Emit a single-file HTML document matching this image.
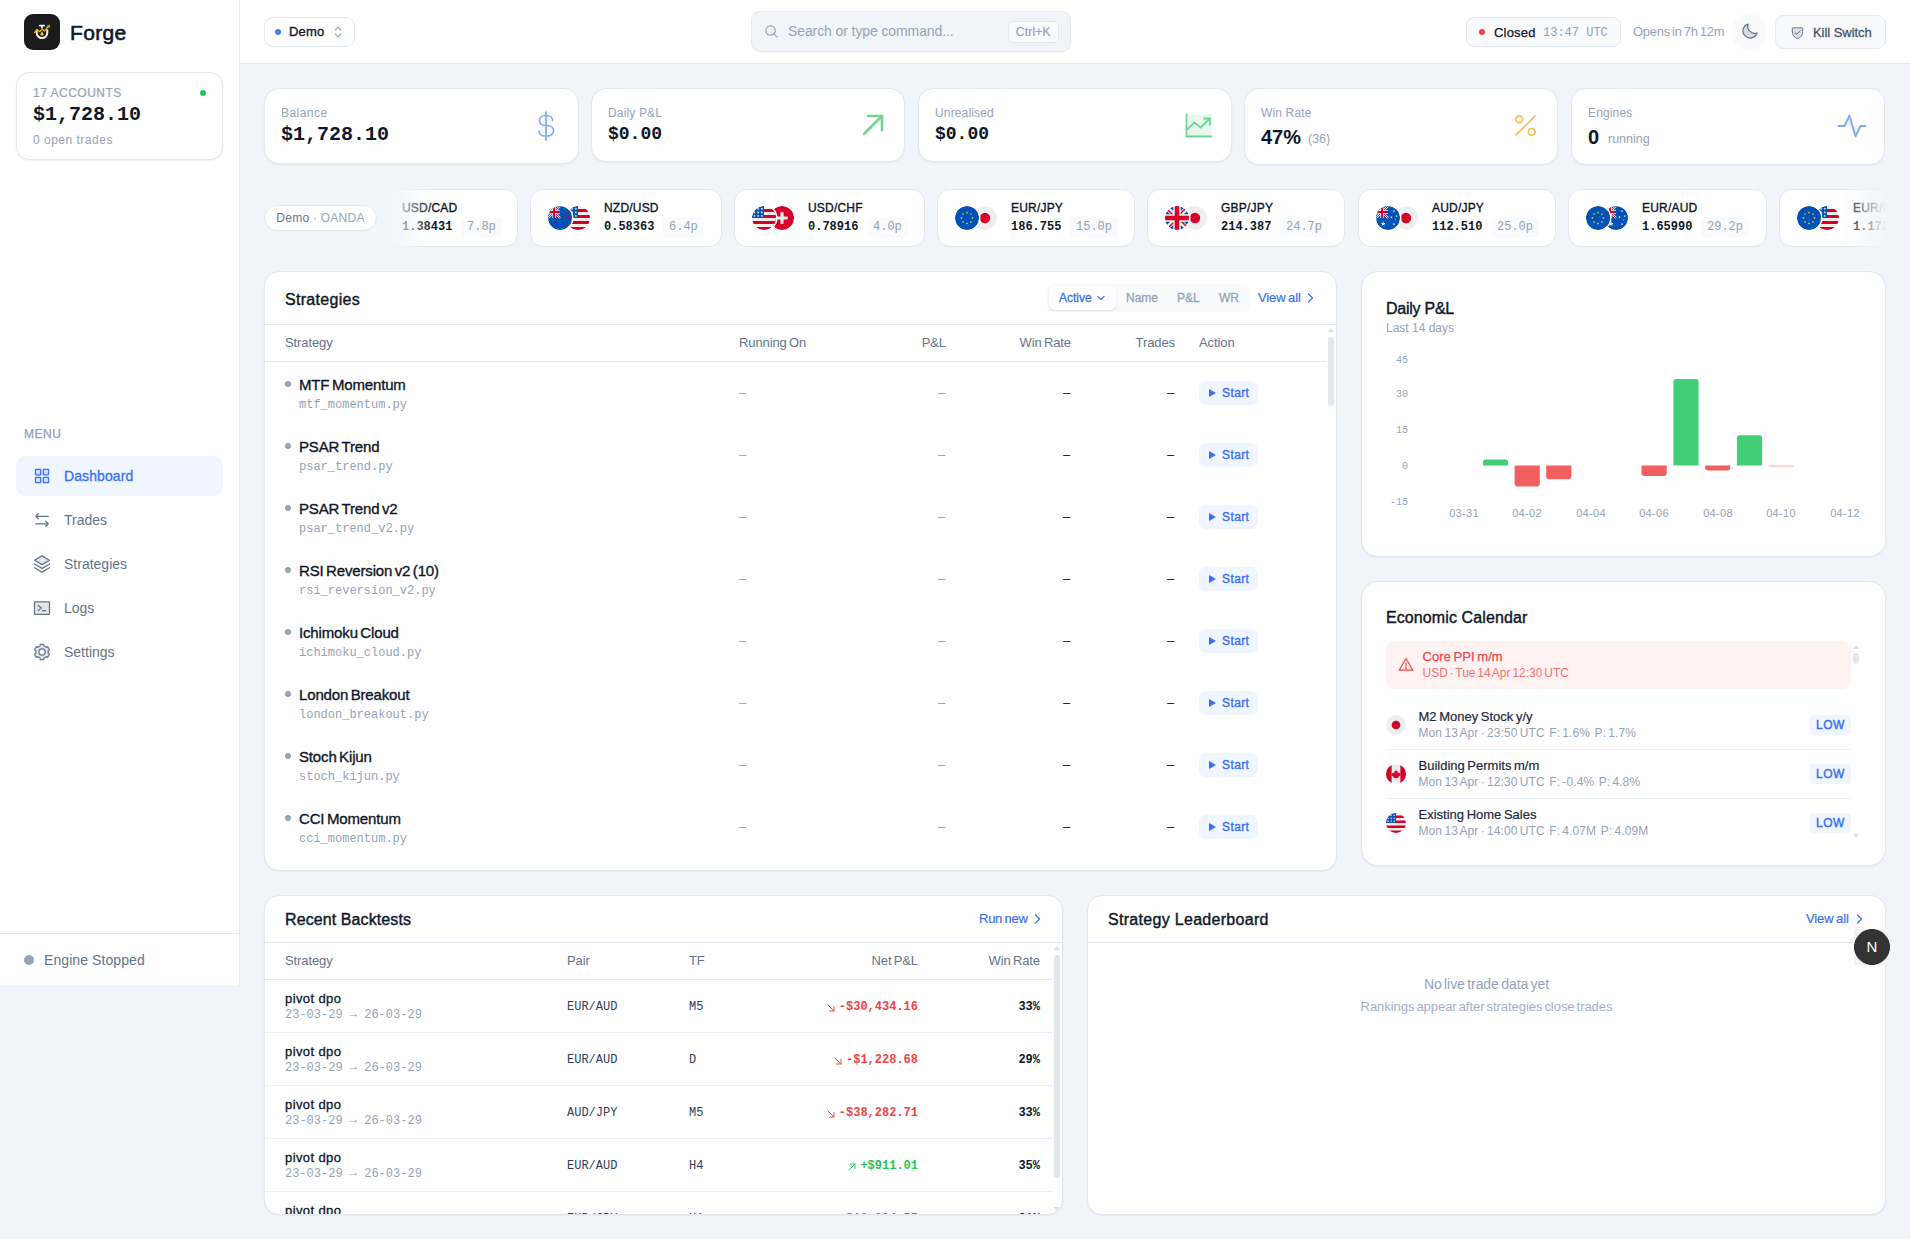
<!DOCTYPE html>
<html lang="en">
<head>
<meta charset="utf-8">
<title>Forge</title>
<style>
*{box-sizing:border-box;margin:0;padding:0}
html,body{width:1910px;height:1239px;overflow:hidden}
body{background:#f1f5f9;font-family:"Liberation Sans",sans-serif;color:#0f172a;position:relative;font-size:14px}
.mono{font-family:"Liberation Mono",monospace}
.abs{position:absolute}
svg{display:block}
/* sidebar */
#side{position:absolute;left:0;top:0;width:240px;height:985px;background:#fff;border-right:1px solid #e2e8f0}
#logo{position:absolute;left:24px;top:14px;width:36px;height:36px;border-radius:9px;background:#1b1b1d}
#brand{position:absolute;left:70px;top:19.500px;font-size:21px;font-weight:400;-webkit-text-stroke:.6px #0f172a;line-height:26px;color:#0f172a;letter-spacing:.35px}
#acct{position:absolute;left:16px;top:72px;width:207px;height:88px;border:1px solid #e2e8f0;border-radius:13px;background:#fff;box-shadow:0 1px 2px rgba(15,23,42,.06)}
#acct .l1{position:absolute;left:16px;top:13px;font-size:12px;line-height:14px;color:#94a3b8;font-weight:400;letter-spacing:.5px;-webkit-text-stroke:.2px #94a3b8}
#acct .l2{position:absolute;left:16px;top:30px;font-size:20px;line-height:24px;font-weight:700;color:#0f172a}
#acct .l3{position:absolute;left:16px;top:60px;font-size:12px;line-height:14px;color:#94a3b8;letter-spacing:.5px}
#acct .dot{position:absolute;left:183px;top:17px;width:6px;height:6px;border-radius:50%;background:#22c55e}
#menu{position:absolute;left:24px;top:427px;font-size:12px;line-height:14px;color:#8ea0bf;letter-spacing:.5px;-webkit-text-stroke:.25px #8ea0bf}
.nav{position:absolute;left:16px;width:207px;height:40px;border-radius:10px;color:#64748b;font-size:14px;line-height:40px;padding-left:48px}
.nav.on{background:#eff6ff;color:#3b6ff5;-webkit-text-stroke:.3px #3b6ff5;letter-spacing:.1px}
.nav svg{position:absolute;left:16px;top:10px;width:20px;height:20px}
#foot{position:absolute;left:0;top:933px;width:239px;height:52px;border-top:1px solid #e2e8f0}
#foot .d{position:absolute;left:24px;top:20.500px;width:10px;height:10px;border-radius:50%;background:#94a3b8}
#foot .t{position:absolute;left:44px;top:16.500px;font-size:14px;line-height:18px;color:#64748b;letter-spacing:.08px}
/* header */
#head{position:absolute;left:240px;top:0;width:1670px;height:64px;background:#fff;border-bottom:1px solid #e2e8f0}
.card{position:absolute;background:#fff;border:1px solid #e2e8f0;border-radius:14px;box-shadow:0 1px 2px rgba(15,23,42,.05)}

/* header items */
#demo{position:absolute;left:24px;top:17px;width:91px;height:30px;border:1px solid #e2e8f0;border-radius:9px;background:#fff}
#demo .d{position:absolute;left:10px;top:11px;width:6px;height:6px;border-radius:50%;background:#3b82f6}
#demo .t{position:absolute;left:24px;top:6px;font-size:13px;line-height:16px;color:#0f172a;-webkit-text-stroke:.35px #0f172a;letter-spacing:.2px}
#demo svg{position:absolute;left:68px;top:7px;width:10px;height:14px}
#search{position:absolute;left:511px;top:11px;width:320px;height:41px;border:1px solid #e2e8f0;border-radius:9px;background:#f1f5f9}
#search .ph{position:absolute;left:36px;top:11px;font-size:14px;line-height:17px;color:#94a3b8;letter-spacing:-.1px}
#search .k{position:absolute;left:255.500px;top:9px;width:51.500px;height:22px;border:1px solid #e2e8f0;border-radius:5px;background:#f8fafc;font-size:12px;line-height:20px;text-align:center;color:#94a3b8;letter-spacing:.2px;-webkit-text-stroke:.2px #94a3b8}
#search svg{position:absolute;left:12px;top:12px;width:15px;height:15px}
#closed{position:absolute;left:1226px;top:17px;width:155px;height:30px;border:1px solid #e2e8f0;border-radius:8px;background:#f8fafc}
#closed .d{position:absolute;left:12px;top:11px;width:6px;height:6px;border-radius:50%;background:#ef4444}
#closed .t{position:absolute;left:27px;top:7px;font-size:13px;line-height:16px;color:#0f172a;-webkit-text-stroke:.25px #0f172a;letter-spacing:.2px}
#closed .m{position:absolute;left:76px;top:8px;font-size:12px;line-height:15px;color:#94a3b8}
#opens{position:absolute;left:1393px;top:24px;font-size:13px;line-height:16px;color:#94a3b8;word-spacing:-1.300px;letter-spacing:-.25px;white-space:nowrap}
#moon{position:absolute;left:1491px;top:14px;width:36px;height:36px;border-radius:50%;background:#f8fafc}
#moon svg{position:absolute;left:9px;top:8px;width:19px;height:19px}
#kill{position:absolute;left:1535px;top:15px;width:111px;height:34px;border:1px solid #e2e8f0;border-radius:9px;background:#f8fafc}
#kill .t{position:absolute;left:37px;top:9px;font-size:13px;line-height:16px;color:#475569;-webkit-text-stroke:.3px #475569;letter-spacing:-.05px;white-space:nowrap}
#kill svg{position:absolute;left:14px;top:9px;width:15px;height:15px}
/* stat cards */
.stat{top:88px;width:314px;height:74px;border-radius:15px}
.stat .lb{position:absolute;left:16px;top:17px;font-size:12px;line-height:15px;color:#94a3b8;letter-spacing:.15px}
.stat .v{position:absolute;left:16px;top:34px;font-size:20px;line-height:24px;font-weight:700;color:#0f172a}
.stat .vs{position:absolute;left:16px;top:36px;font-size:20px;line-height:24px;font-weight:700;color:#0f172a}
.stat .sub{position:absolute;top:43px;font-size:12.5px;line-height:15px;color:#94a3b8}
.stat svg{position:absolute}

/* ticker */
#pill{position:absolute;left:264px;top:205px;width:113px;height:26px;border:1px solid #e2e8f0;border-radius:13px;background:#fff;font-size:12px;line-height:24px;text-align:center;color:#94a3b8;letter-spacing:.25px;white-space:nowrap}
#pill b{font-weight:400;color:#64748b}
#tick{position:absolute;left:388px;top:184px;width:1498px;height:68px;overflow:hidden}
#tick:before{content:"";position:absolute;left:0;top:0;width:46px;height:68px;background:linear-gradient(90deg,#f1f5f9 0%,rgba(241,245,249,0) 100%);z-index:3}
#tick:after{content:"";position:absolute;right:0;top:0;width:46px;height:68px;background:linear-gradient(270deg,#f1f5f9 0%,rgba(241,245,249,0) 100%);z-index:3}
.tk{position:absolute;top:5px;height:58px;background:#fff;border:1px solid #e2e8f0;border-radius:13px}
.tk .f1,.tk .f2{position:absolute;top:15.600px;width:24px;height:24px;border-radius:50%}
.tk .f1{left:17px;z-index:2;box-shadow:0 0 0 1.500px #fff}
.tk .f2{left:35px}
.tk .n{position:absolute;left:73px;top:10.600px;font-size:12px;line-height:15px;color:#0f172a;-webkit-text-stroke:.35px #0f172a;letter-spacing:.2px;white-space:nowrap}
.tk .p{position:absolute;left:73px;top:29.600px;font-size:12px;line-height:15px;font-weight:700;color:#0f172a}
.tk .b{position:absolute;top:26.600px;height:20px;border-radius:4px;background:#f8fafc;font-size:12px;line-height:20px;color:#94a3b8;padding:0 6px}

/* strategies */
.ttl{position:absolute;font-size:16px;line-height:20px;color:#0f172a;-webkit-text-stroke:.4px #0f172a;letter-spacing:.1px;white-space:nowrap}
.hr{position:absolute;height:1px;background:#e2e8f0}
.th{position:absolute;font-size:13px;line-height:16px;color:#64748b;white-space:nowrap;letter-spacing:-.1px;word-spacing:-1.200px}
.r{text-align:right}
#strat .seg{position:absolute;left:782px;top:12px;width:203px;height:28px;border-radius:8px;background:#f8fafc}
#strat .seg .a{position:absolute;left:2px;top:2px;width:67px;height:24px;border-radius:6px;background:#fff;box-shadow:0 1px 2px rgba(15,23,42,.12)}
#strat .seg span{position:absolute;top:7px;font-size:12px;line-height:15px;color:#94a3b8;-webkit-text-stroke:.3px #94a3b8}
#strat .seg .at{color:#3b6ff5;-webkit-text-stroke:.3px #3b6ff5}
.lnk{position:absolute;font-size:13px;line-height:16px;color:#3b6ff5;-webkit-text-stroke:.2px #3b6ff5;white-space:nowrap;letter-spacing:-.1px;word-spacing:-1px}
.srow{position:absolute;left:0;width:1061px;height:62px}
.srow .d{position:absolute;left:20px;top:19px;width:6px;height:6px;border-radius:50%;background:#94a3b8}
.srow .n{position:absolute;left:34px;top:13px;font-size:15px;line-height:19px;color:#0f172a;-webkit-text-stroke:.35px #0f172a;white-space:nowrap;word-spacing:-1.500px;letter-spacing:-.15px}
.srow .f{position:absolute;left:34px;top:36px;font-size:12px;line-height:15px;color:#94a3b8}
.srow .x{position:absolute;top:23px;font-size:13px;line-height:16px;color:#94a3b8}
.srow .k{color:#0f172a}
.srow .btn{position:absolute;left:934px;top:19px;width:59px;height:24px;border-radius:7px;background:#eff6ff;color:#3b6ff5;font-size:12px;line-height:24px;padding-left:23px;-webkit-text-stroke:.35px #3b6ff5;letter-spacing:.4px}
.srow .btn i{position:absolute;left:10px;top:8px;width:0;height:0;border-left:7px solid #3b6ff5;border-top:4px solid transparent;border-bottom:4px solid transparent}
.sb{position:absolute;background:#e2e8f0;border-radius:3px}
.arr{position:absolute;width:0;height:0;border-left:3.500px solid transparent;border-right:3.500px solid transparent}
.arr.u{border-bottom:4px solid #d8dfe8}
.arr.dn{border-top:4px solid #d8dfe8}

/* chart */
#pl .sub{position:absolute;left:24px;top:49px;font-size:12px;line-height:15px;color:#94a3b8;letter-spacing:0}
#pl .yl{position:absolute;left:10px;width:36px;text-align:right;font-size:10px;line-height:12px;color:#94a3b8}
#pl .xl{position:absolute;top:235px;width:50px;text-align:center;font-size:11px;line-height:13px;color:#94a3b8;letter-spacing:.3px}
#pl .bar{position:absolute;width:25px}
#pl .g{background:#43ce76;border-radius:3px 3px 0 0}
#pl .rd{background:#f16060;border-radius:0 0 3px 3px}
/* calendar */
#cal .al{position:absolute;left:24px;top:59px;width:465px;height:48px;border-radius:9px;background:#fef2f2}
#cal .al .t1{position:absolute;left:36.500px;top:8px;font-size:13px;line-height:16px;color:#ef4444;-webkit-text-stroke:.25px #ef4444;letter-spacing:.05px;word-spacing:-1px;white-space:nowrap}
#cal .al .t2{position:absolute;left:36.500px;top:25px;font-size:12px;line-height:15px;color:#f87171;letter-spacing:0;word-spacing:-1.500px;white-space:nowrap}
#cal .ev{position:absolute;left:24px;width:465px;height:49px}
#cal .ev svg{position:absolute;left:0;top:15px;width:20px;height:20px}
#cal .ev .t1{position:absolute;left:32.500px;top:9px;font-size:13px;line-height:16px;color:#1e293b;-webkit-text-stroke:.2px #1e293b;letter-spacing:0;word-spacing:-1px;white-space:nowrap}
#cal .ev .t2{position:absolute;left:32.500px;top:25.500px;font-size:12px;line-height:15px;color:#94a3b8;letter-spacing:.1px;word-spacing:-1.200px;white-space:pre}
#cal .ev .lo{position:absolute;left:424px;top:15px;width:41px;height:20px;border-radius:4px;background:#eff6ff;color:#3b6ff5;font-size:12px;line-height:20px;text-align:center;-webkit-text-stroke:.45px #3b6ff5;letter-spacing:.5px}

/* backtests */
.brow{position:absolute;left:0;width:787px;height:53px;border-bottom:1px solid #eef2f6}
.brow .n{position:absolute;left:20px;top:10.500px;font-size:13px;line-height:16px;color:#0f172a;-webkit-text-stroke:.3px #0f172a;letter-spacing:.4px}
.brow .dt{position:absolute;left:20px;top:28px;font-size:12px;line-height:15px;color:#94a3b8}
.brow .c{position:absolute;top:20px;font-size:12px;line-height:15px;color:#334155}
.brow .pl{position:absolute;right:134px;top:20px;font-size:12px;line-height:15px;font-weight:700;white-space:nowrap}
.brow .wr{position:absolute;right:12px;top:20px;font-size:12px;line-height:15px;font-weight:700;color:#0f172a}
.ar{position:relative;top:-1.500px}.neg{color:#ef4444}.pos{color:#22c55e}
.brow svg{position:absolute;top:24px;width:8px;height:8px}
#lead .e1{position:absolute;left:0;width:797px;top:79px;text-align:center;font-size:14px;line-height:17px;color:#94a3b8;letter-spacing:-.05px;word-spacing:-1.500px}
#lead .e2{position:absolute;left:0;width:797px;top:102px;text-align:center;font-size:13px;line-height:16px;color:#a3b1c6;letter-spacing:-.05px;word-spacing:-1.500px}
#nb{position:absolute;left:1854px;top:929px;width:36px;height:36px;background:#f1f3f6}#nb:before{content:"";box-sizing:border-box;position:absolute;left:0;top:0;width:36px;height:36px;border-radius:50%;background:#333334;border:1px solid #2a2a2b}
#nb span{position:absolute;left:0;top:0;width:36px;height:36px;line-height:36px;text-align:center;color:#fff;font-size:15px}
</style>
</head>
<body>
<svg width="0" height="0" style="position:absolute"><defs><clipPath id="cc"><circle cx="256" cy="256" r="256"/></clipPath><symbol id="f-us" viewBox="0 0 512 512"><g clip-path="url(#cc)"><path fill="#eee" d="M0 0h512v512H0z"/><path fill="#d80027" d="M224 64h288v64H224zM224 192h288v64H224zM0 320h512v64H0zM0 448h512v64H0z"/><path fill="#0052b4" d="M0 0h256v256H0z"/><polygon fill="#eee" points="50.0,30.0 57.1,50.3 78.5,50.7 61.4,63.7 67.6,84.3 50.0,72.0 32.4,84.3 38.6,63.7 21.5,50.7 42.9,50.3"/><polygon fill="#eee" points="130.0,30.0 137.1,50.3 158.5,50.7 141.4,63.7 147.6,84.3 130.0,72.0 112.4,84.3 118.6,63.7 101.5,50.7 122.9,50.3"/><polygon fill="#eee" points="210.0,30.0 217.1,50.3 238.5,50.7 221.4,63.7 227.6,84.3 210.0,72.0 192.4,84.3 198.6,63.7 181.5,50.7 202.9,50.3"/><polygon fill="#eee" points="50.0,105.0 57.1,125.3 78.5,125.7 61.4,138.7 67.6,159.3 50.0,147.0 32.4,159.3 38.6,138.7 21.5,125.7 42.9,125.3"/><polygon fill="#eee" points="130.0,105.0 137.1,125.3 158.5,125.7 141.4,138.7 147.6,159.3 130.0,147.0 112.4,159.3 118.6,138.7 101.5,125.7 122.9,125.3"/><polygon fill="#eee" points="210.0,105.0 217.1,125.3 238.5,125.7 221.4,138.7 227.6,159.3 210.0,147.0 192.4,159.3 198.6,138.7 181.5,125.7 202.9,125.3"/><polygon fill="#eee" points="50.0,180.0 57.1,200.3 78.5,200.7 61.4,213.7 67.6,234.3 50.0,222.0 32.4,234.3 38.6,213.7 21.5,200.7 42.9,200.3"/><polygon fill="#eee" points="130.0,180.0 137.1,200.3 158.5,200.7 141.4,213.7 147.6,234.3 130.0,222.0 112.4,234.3 118.6,213.7 101.5,200.7 122.9,200.3"/><polygon fill="#eee" points="210.0,180.0 217.1,200.3 238.5,200.7 221.4,213.7 227.6,234.3 210.0,222.0 192.4,234.3 198.6,213.7 181.5,200.7 202.9,200.3"/></g></symbol><symbol id="f-jp" viewBox="0 0 512 512"><g clip-path="url(#cc)"><path fill="#eee" d="M0 0h512v512H0z"/><circle cx="256" cy="256" r="111" fill="#d80027"/></g></symbol><symbol id="f-ch" viewBox="0 0 512 512"><g clip-path="url(#cc)"><path fill="#d80027" d="M0 0h512v512H0z"/><path fill="#eee" d="M133.600 222.600h89v-89h66.800v89h89v66.800h-89v89h-66.800v-89h-89z"/></g></symbol><symbol id="f-eu" viewBox="0 0 512 512"><g clip-path="url(#cc)"><path fill="#0052b4" d="M0 0h512v512H0z"/><polygon fill="#ffda44" points="374.0,229.0 380.3,247.3 399.7,247.7 384.3,259.3 389.9,277.8 374.0,266.8 358.1,277.8 363.7,259.3 348.3,247.7 367.7,247.3"/><polygon fill="#ffda44" points="339.4,312.4 345.8,330.7 365.1,331.1 349.7,342.8 355.3,361.3 339.4,350.2 323.6,361.3 329.2,342.8 313.8,331.1 333.1,330.7"/><polygon fill="#ffda44" points="256.0,347.0 262.3,365.3 281.7,365.7 266.3,377.3 271.9,395.8 256.0,384.8 240.1,395.8 245.7,377.3 230.3,365.7 249.7,365.3"/><polygon fill="#ffda44" points="172.6,312.4 178.9,330.7 198.2,331.1 182.8,342.8 188.4,361.3 172.6,350.2 156.7,361.3 162.3,342.8 146.9,331.1 166.2,330.7"/><polygon fill="#ffda44" points="138.0,229.0 144.3,247.3 163.7,247.7 148.3,259.3 153.9,277.8 138.0,266.8 122.1,277.8 127.7,259.3 112.3,247.7 131.7,247.3"/><polygon fill="#ffda44" points="172.6,145.6 178.9,163.8 198.2,164.2 182.8,175.9 188.4,194.4 172.6,183.4 156.7,194.4 162.3,175.9 146.9,164.2 166.2,163.8"/><polygon fill="#ffda44" points="256.0,111.0 262.3,129.3 281.7,129.7 266.3,141.3 271.9,159.8 256.0,148.8 240.1,159.8 245.7,141.3 230.3,129.7 249.7,129.3"/><polygon fill="#ffda44" points="339.4,145.6 345.8,163.8 365.1,164.2 349.7,175.9 355.3,194.4 339.4,183.4 323.6,194.4 329.2,175.9 313.8,164.2 333.1,163.8"/></g></symbol><symbol id="f-gb" viewBox="0 0 512 512"><g clip-path="url(#cc)"><path fill="#eee" d="M0 0h512v512H0z"/><path fill="#0052b4" d="M336 0v108L444 0zm176 68L404 176h108zM0 176h108L0 68zM68 0l108 108V0zm108 512V404L68 512zM0 444l108-108H0zm512-108H404l108 108zm-68 176L336 404v108z"/><path fill="#d80027" d="M0 0v45l131 131h45L0 0zm208 0v208H0v96h208v208h96V304h208v-96H304V0h-96zm259 0L336 131v45L512 0h-45zM176 336L0 512h45l131-131v-45zm160 0l176 176v-45L381 336h-45z"/></g></symbol><symbol id="f-au" viewBox="0 0 512 512"><g clip-path="url(#cc)"><path fill="#0052b4" d="M0 0h512v512H0z"/><g><path fill="#0052b4" d="M0 0h256v256H0z"/><path stroke="#eee" stroke-width="44" d="M0 0l256 256M256 0L0 256"/><path stroke="#d80027" stroke-width="18" d="M0 0l256 256M256 0L0 256"/><path stroke="#eee" stroke-width="72" d="M128 0v256M0 128h256"/><path stroke="#d80027" stroke-width="40" d="M128 0v256M0 128h256"/></g><polygon fill="#eee" points="154.0,324.0 167.2,361.9 207.3,362.7 175.3,386.9 186.9,425.3 154.0,402.4 121.1,425.3 132.7,386.9 100.7,362.7 140.8,361.9"/><polygon fill="#eee" points="384.0,82.0 390.6,100.9 410.6,101.3 394.7,113.5 400.5,132.7 384.0,121.2 367.5,132.7 373.3,113.5 357.4,101.3 377.4,100.9"/><polygon fill="#eee" points="440.0,187.0 446.6,205.9 466.6,206.3 450.7,218.5 456.5,237.7 440.0,226.2 423.5,237.7 429.3,218.5 413.4,206.3 433.4,205.9"/><polygon fill="#eee" points="330.0,212.0 336.6,230.9 356.6,231.3 340.7,243.5 346.5,262.7 330.0,251.2 313.5,262.7 319.3,243.5 303.4,231.3 323.4,230.9"/><polygon fill="#eee" points="384.0,362.0 390.6,380.9 410.6,381.3 394.7,393.5 400.5,412.7 384.0,401.2 367.5,412.7 373.3,393.5 357.4,381.3 377.4,380.9"/><polygon fill="#eee" points="420.0,284.0 423.8,294.8 435.2,295.1 426.1,302.0 429.4,312.9 420.0,306.4 410.6,312.9 413.9,302.0 404.8,295.1 416.2,294.8"/></g></symbol><symbol id="f-nz" viewBox="0 0 512 512"><g clip-path="url(#cc)"><path fill="#0052b4" d="M0 0h512v512H0z"/><g><path fill="#0052b4" d="M0 0h256v256H0z"/><path stroke="#eee" stroke-width="44" d="M0 0l256 256M256 0L0 256"/><path stroke="#d80027" stroke-width="18" d="M0 0l256 256M256 0L0 256"/><path stroke="#eee" stroke-width="72" d="M128 0v256M0 128h256"/><path stroke="#d80027" stroke-width="40" d="M128 0v256M0 128h256"/></g><polygon fill="#d80027" points="384.0,86.0 392.0,109.0 416.3,109.5 396.9,124.2 404.0,147.5 384.0,133.6 364.0,147.5 371.1,124.2 351.7,109.5 376.0,109.0"/><polygon fill="#d80027" points="440.0,195.0 447.1,215.3 468.5,215.7 451.4,228.7 457.6,249.3 440.0,237.0 422.4,249.3 428.6,228.7 411.5,215.7 432.9,215.3"/><polygon fill="#d80027" points="330.0,210.0 337.1,230.3 358.5,230.7 341.4,243.7 347.6,264.3 330.0,252.0 312.4,264.3 318.6,243.7 301.5,230.7 322.9,230.3"/><polygon fill="#d80027" points="384.0,344.0 392.5,368.4 418.2,368.9 397.7,384.4 405.2,409.1 384.0,394.4 362.8,409.1 370.3,384.4 349.8,368.9 375.5,368.4"/></g></symbol><symbol id="f-ca" viewBox="0 0 512 512"><g clip-path="url(#cc)"><path fill="#eee" d="M0 0h512v512H0z"/><path fill="#d80027" d="M0 0h144v512H0zM368 0h144v512H368z"/><path fill="#d80027" d="M256 150l22 44 28-10-12 62 34-30 8 22 40-8-16 44 16 10-62 50 8 26-60-10v46h-12v-46l-60 10 8-26-62-50 16-10-16-44 40 8 8-22 34 30-12-62 28 10z"/></g></symbol></defs></svg>
<div id="side">
  <div id="logo"><svg width="36" height="36" viewBox="0 0 36 36" fill="none" stroke-linecap="round" stroke-linejoin="round"><path d="M12.700 16.300v2.400a5.300 5.300 0 0 0 10.600 0v-2.400" stroke="#f1f1f1" stroke-width="2.100"/><path d="M15.700 11.600h4.600M18 11.800v2" stroke="#f1f1f1" stroke-width="1.700"/><circle cx="18" cy="20.200" r="1.600" fill="#f5b30f"/><path d="M18 17.600l1.300 2h-2.600z" fill="#f5b30f"/><path d="M10.400 18.600l2.700-3 2.400 2.100 2.600-2.500 2.400 1.800 3.700-4.500" stroke="#f5b30f" stroke-width="1.250"/><path d="M23.300 11.700l2.500-.7-.4 2.600z" fill="#f5b30f" stroke="#f5b30f" stroke-width=".5"/></svg></div>
  <div id="brand">Forge</div>
  <div id="acct">
    <div class="l1">17 ACCOUNTS</div>
    <div class="l2 mono">$1,728.10</div>
    <div class="l3">0 open trades</div>
    <div class="dot"></div>
  </div>
  <div id="menu">MENU</div>
  <div class="nav on" style="top:456px"><svg viewBox="0 0 256 256" fill="none" stroke="currentColor" stroke-width="16" stroke-linecap="round" stroke-linejoin="round"><rect x="44" y="44" width="68" height="68" rx="8" fill="currentColor" fill-opacity=".18"/><rect x="144" y="44" width="68" height="68" rx="8" fill="currentColor" fill-opacity=".18"/><rect x="44" y="144" width="68" height="68" rx="8" fill="currentColor" fill-opacity=".18"/><rect x="144" y="144" width="68" height="68" rx="8" fill="currentColor" fill-opacity=".18"/></svg>Dashboard</div>
  <div class="nav" style="top:500px"><svg viewBox="0 0 256 256" fill="none" stroke="currentColor" stroke-width="16" stroke-linecap="round" stroke-linejoin="round"><path d="M176 144l32 32-32 32M48 176h160M80 112L48 80l32-32M208 80H48"/></svg>Trades</div>
  <div class="nav" style="top:544px"><svg viewBox="0 0 256 256" fill="none" stroke="currentColor" stroke-width="16" stroke-linecap="round" stroke-linejoin="round"><path d="M32 176l96 56 96-56M32 128l96 56 96-56"/><path d="M32 80l96 56 96-56-96-56z" fill="currentColor" fill-opacity=".18"/></svg>Strategies</div>
  <div class="nav" style="top:588px"><svg viewBox="0 0 256 256" fill="none" stroke="currentColor" stroke-width="16" stroke-linecap="round" stroke-linejoin="round"><rect x="32" y="48" width="192" height="160" rx="8" fill="currentColor" fill-opacity=".18"/><path d="M80 96l40 32-40 32M136 160h40"/></svg>Logs</div>
  <div class="nav" style="top:632px"><svg viewBox="0 0 256 256" fill="none" stroke="currentColor" stroke-width="16" stroke-linecap="round" stroke-linejoin="round"><path d="M105.2 30.6 L150.8 30.6 L152.7 51.9 L181.5 68.5 L200.9 59.5 L223.7 99.1 L206.3 111.4 L206.3 144.6 L223.7 156.9 L200.9 196.5 L181.5 187.5 L152.7 204.1 L150.8 225.4 L105.2 225.4 L103.3 204.1 L74.5 187.5 L55.1 196.5 L32.3 156.9 L49.7 144.6 L49.7 111.4 L32.3 99.1 L55.1 59.5 L74.5 68.5 L103.3 51.9Z" fill="currentColor" fill-opacity=".18" stroke-width="15"/><circle cx="128" cy="128" r="40" fill="#fff"/></svg>Settings</div>
  <div id="foot"><div class="d"></div><div class="t">Engine Stopped</div></div>
</div>
<div id="head">
  <div id="demo"><div class="d"></div><div class="t">Demo</div>
    <svg viewBox="0 0 10 14" fill="none" stroke="#94a3b8" stroke-width="1.2" stroke-linecap="round" stroke-linejoin="round"><path d="M2.2 5 5 2.2 7.8 5M2.2 9 5 11.8 7.8 9"/></svg></div>
  <div id="search">
    <svg viewBox="0 0 16 16" fill="none" stroke="#94a3b8" stroke-width="1.3" stroke-linecap="round"><circle cx="7" cy="7" r="5"/><path d="M10.8 10.8 14 14"/></svg>
    <div class="ph">Search or type command...</div><div class="k">Ctrl+K</div></div>
  <div id="closed"><div class="d"></div><div class="t">Closed</div><div class="m mono">13:47 UTC</div></div>
  <div id="opens">Opens in 7h 12m</div>
  <div id="moon"><svg viewBox="0 0 256 256" fill="rgba(100,116,139,.22)" stroke="#64748b" stroke-width="16" stroke-linecap="round" stroke-linejoin="round"><path d="M108.1 28.2A96.1 96.1 0 0 0 227.8 147.9 96 96 0 1 1 108.1 28.2Z"/></svg></div>
  <div id="kill"><svg viewBox="0 0 256 256" fill="rgba(100,116,139,.2)" stroke="#64748b" stroke-width="16" stroke-linecap="round" stroke-linejoin="round"><path d="M40 114.8V56a8 8 0 0 1 8-8h160a8 8 0 0 1 8 8v58.8c0 84-71.300 111.800-85.500 116.500a7.200 7.200 0 0 1-5 0C111.300 226.600 40 198.800 40 114.800Z"/><path d="M172 104l-58.700 56L84 132"/></svg><div class="t">Kill Switch</div></div>
</div>
<div class="card stat" style="left:264px;height:76px;width:315px"><div class="lb" style="letter-spacing:.45px">Balance</div><div class="v mono">$1,728.10</div>
  <svg style="left:268.500px;top:21px;width:24px;height:32px" viewBox="0 0 24 32" fill="none" stroke="#7fa9f3" stroke-width="1.7" stroke-linecap="round"><path d="M12 2v28M18.500 10.500c0-3-2.500-5-6-5h-1.500c-3 0-5.500 2-5.500 5s2.500 5 5.500 5h2.500c3.300 0 6 2 6 5.300s-2.700 5.200-6 5.200h-2.500c-3.500 0-6-2-6-5"/></svg></div>
<div class="card stat" style="left:591px"><div class="lb">Daily P&amp;L</div><div class="v mono" style="font-size:18px;top:33px">$0.00</div>
  <svg style="left:269px;top:24px;width:24px;height:24px" viewBox="0 0 24 24" fill="none" stroke="#6fd694" stroke-width="2.500" stroke-linecap="round" stroke-linejoin="round"><path d="M3 21 21 3M7 3h14v14"/></svg></div>
<div class="card stat" style="left:918px"><div class="lb">Unrealised</div><div class="v mono" style="font-size:18px;top:33px">$0.00</div>
  <svg style="left:266px;top:24px;width:28px;height:26px" viewBox="0 0 28 26" fill="none" stroke="#6fd694" stroke-width="1.800" stroke-linecap="round" stroke-linejoin="round"><path d="M1.500 1.500h25v22h-25z" fill="#6fd694" fill-opacity=".16" stroke="none"/><path d="M1.500 1.500v22h25M1.500 17l8-7.500 6 5 9.500-9M19 5.500h6v6"/></svg></div>
<div class="card stat" style="left:1244px;height:77px"><div class="lb">Win Rate</div><div class="vs">47%</div><div class="sub" style="left:63px">(36)</div>
  <svg style="left:268px;top:24px;width:25px;height:25px" viewBox="0 0 24 24" fill="none" stroke="#fbbf5a" stroke-width="1.800" stroke-linecap="round"><path d="M21 3 3 21"/><circle cx="6" cy="6" r="3.300"/><circle cx="18" cy="18" r="3.300"/></svg></div>
<div class="card stat" style="left:1571px;height:77px"><div class="lb">Engines</div><div class="vs">0</div><div class="sub" style="left:36px">running</div>
  <svg style="left:265px;top:23.500px;width:30px;height:26px" viewBox="0 0 30 26" fill="none" stroke="#7fa9f3" stroke-width="1.800" stroke-linecap="round" stroke-linejoin="round"><path d="M7.500 13l5-10.500 6 21 5-10.500z" fill="#7fa9f3" fill-opacity=".15" stroke="none"/><path d="M1.500 13h6l5-10.500 6 21 5-10.500h5"/></svg></div>
<div id="pill"><b>Demo</b> · OANDA</div>
<div id="tick">
<div class="tk" style="left:-60px;width:190px"><svg class="f1" viewBox="0 0 512 512"><use href="#f-us"/></svg><svg class="f2" viewBox="0 0 512 512"><use href="#f-ca"/></svg><div class="n">USD/CAD</div><div class="p mono">1.38431</div><div class="b mono" style="left:132px">7.8p</div></div>
<div class="tk" style="left:142px;width:192px"><svg class="f1" viewBox="0 0 512 512"><use href="#f-nz"/></svg><svg class="f2" viewBox="0 0 512 512"><use href="#f-us"/></svg><div class="n">NZD/USD</div><div class="p mono">0.58363</div><div class="b mono" style="left:132px">6.4p</div></div>
<div class="tk" style="left:346px;width:191px"><svg class="f1" viewBox="0 0 512 512"><use href="#f-us"/></svg><svg class="f2" viewBox="0 0 512 512"><use href="#f-ch"/></svg><div class="n">USD/CHF</div><div class="p mono">0.78916</div><div class="b mono" style="left:132px">4.0p</div></div>
<div class="tk" style="left:549px;width:198px"><svg class="f1" viewBox="0 0 512 512"><use href="#f-eu"/></svg><svg class="f2" viewBox="0 0 512 512"><use href="#f-jp"/></svg><div class="n">EUR/JPY</div><div class="p mono">186.755</div><div class="b mono" style="left:132px">15.0p</div></div>
<div class="tk" style="left:759px;width:198px"><svg class="f1" viewBox="0 0 512 512"><use href="#f-gb"/></svg><svg class="f2" viewBox="0 0 512 512"><use href="#f-jp"/></svg><div class="n">GBP/JPY</div><div class="p mono">214.387</div><div class="b mono" style="left:132px">24.7p</div></div>
<div class="tk" style="left:970px;width:198px"><svg class="f1" viewBox="0 0 512 512"><use href="#f-au"/></svg><svg class="f2" viewBox="0 0 512 512"><use href="#f-jp"/></svg><div class="n">AUD/JPY</div><div class="p mono">112.510</div><div class="b mono" style="left:132px">25.0p</div></div>
<div class="tk" style="left:1180px;width:199px"><svg class="f1" viewBox="0 0 512 512"><use href="#f-eu"/></svg><svg class="f2" viewBox="0 0 512 512"><use href="#f-au"/></svg><div class="n">EUR/AUD</div><div class="p mono">1.65990</div><div class="b mono" style="left:132px">29.2p</div></div>
<div class="tk" style="left:1391px;width:199px"><svg class="f1" viewBox="0 0 512 512"><use href="#f-eu"/></svg><svg class="f2" viewBox="0 0 512 512"><use href="#f-us"/></svg><div class="n">EUR/USD</div><div class="p mono">1.17234</div><div class="b mono" style="left:132px">12.0p</div></div>
</div>
<div class="card" id="strat" style="left:264px;top:271px;width:1073px;height:600px;border-radius:15px;overflow:hidden">
<div class="ttl" style="left:20px;top:17.500px;letter-spacing:.3px">Strategies</div>
<div class="seg"><div class="a"></div><span class="at" style="left:12px">Active</span><svg style="position:absolute;left:50px;top:11px;width:8px;height:6px" viewBox="0 0 8 6" fill="none" stroke="#3b6ff5" stroke-width="1.100" stroke-linecap="round" stroke-linejoin="round"><path d="M1 1.500 4 4.500 7 1.500"/></svg><span style="left:79px">Name</span><span style="left:130px">P&amp;L</span><span style="left:172px">WR</span></div>
<div class="lnk" style="left:993px;top:18px">View all</div><svg style="position:absolute;left:1042px;top:21px;width:7px;height:10px" viewBox="0 0 7 10" fill="none" stroke="#3b6ff5" stroke-width="1.300" stroke-linecap="round" stroke-linejoin="round"><path d="M1.500 1 5.500 5 1.500 9"/></svg>
<div class="hr" style="left:0;top:52px;width:1071px"></div>
<div class="th" style="left:20px;top:63px">Strategy</div><div class="th" style="left:474px;top:63px">Running On</div><div class="th r" style="left:581px;width:100px;top:63px">P&amp;L</div><div class="th r" style="left:706px;width:100px;top:63px">Win Rate</div><div class="th r" style="left:810px;width:100px;top:63px">Trades</div><div class="th" style="left:934px;top:63px">Action</div>
<div class="hr" style="left:0;top:89px;width:1061px"></div>
<div class="srow" style="top:90px"><div class="d"></div><div class="n">MTF Momentum</div><div class="f mono">mtf_momentum.py</div><div class="x" style="left:474px">–</div><div class="x" style="left:673px">–</div><div class="x k" style="left:798px">–</div><div class="x k" style="left:902px">–</div><div class="btn"><i></i>Start</div></div>
<div class="srow" style="top:152px"><div class="d"></div><div class="n">PSAR Trend</div><div class="f mono">psar_trend.py</div><div class="x" style="left:474px">–</div><div class="x" style="left:673px">–</div><div class="x k" style="left:798px">–</div><div class="x k" style="left:902px">–</div><div class="btn"><i></i>Start</div></div>
<div class="srow" style="top:214px"><div class="d"></div><div class="n">PSAR Trend v2</div><div class="f mono">psar_trend_v2.py</div><div class="x" style="left:474px">–</div><div class="x" style="left:673px">–</div><div class="x k" style="left:798px">–</div><div class="x k" style="left:902px">–</div><div class="btn"><i></i>Start</div></div>
<div class="srow" style="top:276px"><div class="d"></div><div class="n">RSI Reversion v2 (10)</div><div class="f mono">rsi_reversion_v2.py</div><div class="x" style="left:474px">–</div><div class="x" style="left:673px">–</div><div class="x k" style="left:798px">–</div><div class="x k" style="left:902px">–</div><div class="btn"><i></i>Start</div></div>
<div class="srow" style="top:338px"><div class="d"></div><div class="n">Ichimoku Cloud</div><div class="f mono">ichimoku_cloud.py</div><div class="x" style="left:474px">–</div><div class="x" style="left:673px">–</div><div class="x k" style="left:798px">–</div><div class="x k" style="left:902px">–</div><div class="btn"><i></i>Start</div></div>
<div class="srow" style="top:400px"><div class="d"></div><div class="n">London Breakout</div><div class="f mono">london_breakout.py</div><div class="x" style="left:474px">–</div><div class="x" style="left:673px">–</div><div class="x k" style="left:798px">–</div><div class="x k" style="left:902px">–</div><div class="btn"><i></i>Start</div></div>
<div class="srow" style="top:462px"><div class="d"></div><div class="n">Stoch Kijun</div><div class="f mono">stoch_kijun.py</div><div class="x" style="left:474px">–</div><div class="x" style="left:673px">–</div><div class="x k" style="left:798px">–</div><div class="x k" style="left:902px">–</div><div class="btn"><i></i>Start</div></div>
<div class="srow" style="top:524px"><div class="d"></div><div class="n">CCI Momentum</div><div class="f mono">cci_momentum.py</div><div class="x" style="left:474px">–</div><div class="x" style="left:673px">–</div><div class="x k" style="left:798px">–</div><div class="x k" style="left:902px">–</div><div class="btn"><i></i>Start</div></div>
<div class="arr u" style="left:1063px;top:56px"></div><div class="sb" style="left:1063px;top:65px;width:6px;height:69px"></div>
</div>
<div class="card" id="pl" style="left:1361px;top:271px;width:525px;height:286px;border-radius:17px">
<div class="ttl" style="left:24px;top:27px;letter-spacing:-.25px">Daily P&amp;L</div><div class="sub">Last 14 days</div>
<svg style="position:absolute;left:0;top:0;width:523px;height:284px" viewBox="0 0 523 284"><path fill="#43ce76" d="M120.9 193.6V190.4a3.0 3.0 0 0 1 3.0 -3.0h19.2a3.0 3.0 0 0 1 3.0 3.0V193.6z"/><path fill="#f16060" d="M152.6 193.6V211.6a3.0 3.0 0 0 0 3.0 3.0h19.2a3.0 3.0 0 0 0 3.0 -3.0V193.6z"/><path fill="#f16060" d="M184.2 193.6V204.3a3.0 3.0 0 0 0 3.0 3.0h19.2a3.0 3.0 0 0 0 3.0 -3.0V193.6z"/><path fill="#f16060" d="M279.5 193.6V201.1a3.0 3.0 0 0 0 3.0 3.0h19.2a3.0 3.0 0 0 0 3.0 -3.0V193.6z"/><path fill="#43ce76" d="M311.4 193.6V110.0a3.0 3.0 0 0 1 3.0 -3.0h19.2a3.0 3.0 0 0 1 3.0 3.0V193.6z"/><path fill="#f16060" d="M343.1 193.6V196.1a2.4 2.4 0 0 0 2.4 2.4h20.3a2.4 2.4 0 0 0 2.4 -2.4V193.6z"/><path fill="#43ce76" d="M374.9 193.6V166.3a3.0 3.0 0 0 1 3.0 -3.0h19.2a3.0 3.0 0 0 1 3.0 3.0V193.6z"/><rect x="406.7" y="193.3" width="25.2" height="1.800" fill="#fbcfcf"/></svg>
<div class="yl mono" style="top:83px">45</div><div class="yl mono" style="top:117px">30</div><div class="yl mono" style="top:153px">15</div><div class="yl mono" style="top:189px">0</div><div class="yl mono" style="top:225px">-15</div>
<div class="xl" style="left:77px">03-31</div><div class="xl" style="left:140px">04-02</div><div class="xl" style="left:204px">04-04</div><div class="xl" style="left:267px">04-06</div><div class="xl" style="left:331px">04-08</div><div class="xl" style="left:394px">04-10</div><div class="xl" style="left:458px">04-12</div>

</div>
<div class="card" id="cal" style="left:1361px;top:581px;width:525px;height:285px;border-radius:17px">
<div class="ttl" style="left:24px;top:26px">Economic Calendar</div>
<div class="al"><svg style="position:absolute;left:12px;top:16px;width:16px;height:15px" viewBox="0 0 16 15" fill="none" stroke="#ef4444" stroke-width="1.200" stroke-linecap="round" stroke-linejoin="round"><path d="M8 1.500 14.800 13.200H1.200Z"/><path d="M8 6v3.500"/><circle cx="8" cy="11.300" r=".4" fill="#ef4444"/></svg><div class="t1">Core PPI m/m</div><div class="t2">USD · Tue 14 Apr 12:30 UTC</div></div>
<div class="ev" style="top:118px"><svg viewBox="0 0 512 512"><use href="#f-jp"/></svg><div class="t1">M2 Money Stock y/y</div><div class="t2">Mon 13 Apr · 23:50 UTC  F: 1.6%  P: 1.7%</div><div class="lo">LOW</div></div>
<div class="hr" style="left:24px;top:167px;width:465px;background:#eef2f6"></div>
<div class="ev" style="top:167px"><svg viewBox="0 0 512 512"><use href="#f-ca"/></svg><div class="t1">Building Permits m/m</div><div class="t2">Mon 13 Apr · 12:30 UTC  F: -0.4%  P: 4.8%</div><div class="lo">LOW</div></div>
<div class="hr" style="left:24px;top:216px;width:465px;background:#eef2f6"></div>
<div class="ev" style="top:216px"><svg viewBox="0 0 512 512"><use href="#f-us"/></svg><div class="t1">Existing Home Sales</div><div class="t2">Mon 13 Apr · 14:00 UTC  F: 4.07M  P: 4.09M</div><div class="lo">LOW</div></div>
<div class="arr u" style="left:491px;top:63px"></div><div class="sb" style="left:491px;top:71px;width:6px;height:11px"></div><div class="arr dn" style="left:491px;top:252px"></div>
</div>
<div class="card" id="back" style="left:264px;top:895px;width:799px;height:320px;border-radius:15px;overflow:hidden"><div style="position:absolute;left:0;top:1px;width:100%;height:100%">
<div class="ttl" style="left:20px;top:13px">Recent Backtests</div>
<div class="lnk" style="left:714px;top:14px;letter-spacing:-.25px">Run new</div><svg style="position:absolute;left:768.500px;top:17px;width:7px;height:10px" viewBox="0 0 7 10" fill="none" stroke="#3b6ff5" stroke-width="1.300" stroke-linecap="round" stroke-linejoin="round"><path d="M1.500 1 5.500 5 1.500 9"/></svg>
<div class="hr" style="left:0;top:45px;width:797px"></div>
<div class="th" style="left:20px;top:56px">Strategy</div><div class="th" style="left:302px;top:56px">Pair</div><div class="th" style="left:424px;top:56px">TF</div><div class="th r" style="left:553px;width:100px;top:56px">Net P&amp;L</div><div class="th r" style="left:675px;width:100px;top:56px">Win Rate</div>
<div class="hr" style="left:0;top:82px;width:787px"></div>
<div class="brow" style="top:83px"><div class="n">pivot dpo</div><div class="dt mono">23-03-29 <span class="ar">→</span> 26-03-29</div><div class="c mono" style="left:302px">EUR/AUD</div><div class="c mono" style="left:424px">M5</div><svg style="left:561.8px" viewBox="0 0 8 8" fill="none" stroke="#ef4444" stroke-width="1" stroke-linecap="round" stroke-linejoin="round"><path d="M1 1 7 7M2.500 7H7V2.500"/></svg><div class="pl mono neg">-$30,434.16</div><div class="wr mono">33%</div></div>
<div class="brow" style="top:136px"><div class="n">pivot dpo</div><div class="dt mono">23-03-29 <span class="ar">→</span> 26-03-29</div><div class="c mono" style="left:302px">EUR/AUD</div><div class="c mono" style="left:424px">D</div><svg style="left:569.0px" viewBox="0 0 8 8" fill="none" stroke="#ef4444" stroke-width="1" stroke-linecap="round" stroke-linejoin="round"><path d="M1 1 7 7M2.500 7H7V2.500"/></svg><div class="pl mono neg">-$1,228.68</div><div class="wr mono">29%</div></div>
<div class="brow" style="top:189px"><div class="n">pivot dpo</div><div class="dt mono">23-03-29 <span class="ar">→</span> 26-03-29</div><div class="c mono" style="left:302px">AUD/JPY</div><div class="c mono" style="left:424px">M5</div><svg style="left:561.8px" viewBox="0 0 8 8" fill="none" stroke="#ef4444" stroke-width="1" stroke-linecap="round" stroke-linejoin="round"><path d="M1 1 7 7M2.500 7H7V2.500"/></svg><div class="pl mono neg">-$38,282.71</div><div class="wr mono">33%</div></div>
<div class="brow" style="top:242px"><div class="n">pivot dpo</div><div class="dt mono">23-03-29 <span class="ar">→</span> 26-03-29</div><div class="c mono" style="left:302px">EUR/AUD</div><div class="c mono" style="left:424px">H4</div><svg style="left:583.4px" viewBox="0 0 8 8" fill="none" stroke="#22c55e" stroke-width="1" stroke-linecap="round" stroke-linejoin="round"><path d="M1 7 7 1M2.500 1H7v4.500"/></svg><div class="pl mono pos">+$911.01</div><div class="wr mono">35%</div></div>
<div class="brow" style="top:295px"><div class="n">pivot dpo</div><div class="dt mono">23-03-29 <span class="ar">→</span> 26-03-29</div><div class="c mono" style="left:302px">EUR/JPY</div><div class="c mono" style="left:424px">H1</div><svg style="left:561.8px" viewBox="0 0 8 8" fill="none" stroke="#ef4444" stroke-width="1" stroke-linecap="round" stroke-linejoin="round"><path d="M1 1 7 7M2.500 7H7V2.500"/></svg><div class="pl mono neg">-$12,004.55</div><div class="wr mono">31%</div></div>
<div class="arr u" style="left:789px;top:49px"></div><div class="sb" style="left:789px;top:58px;width:6px;height:223px"></div><div class="arr dn" style="left:789px;top:310px"></div>
</div>
</div>
<div class="card" id="lead" style="left:1087px;top:895px;width:799px;height:320px;border-radius:15px"><div style="position:absolute;left:0;top:1px;width:100%;height:100%">
<div class="ttl" style="left:20px;top:13px;letter-spacing:.3px">Strategy Leaderboard</div>
<div class="lnk" style="left:718px;top:14px">View all</div><svg style="position:absolute;left:768px;top:17px;width:7px;height:10px" viewBox="0 0 7 10" fill="none" stroke="#3b6ff5" stroke-width="1.300" stroke-linecap="round" stroke-linejoin="round"><path d="M1.500 1 5.500 5 1.500 9"/></svg>
<div class="hr" style="left:0;top:45px;width:797px"></div>
<div class="e1">No live trade data yet</div><div class="e2">Rankings appear after strategies close trades</div>
</div>
</div>
<div id="nb"><span>N</span></div>
<!--MAIN-->
</body>
</html>
